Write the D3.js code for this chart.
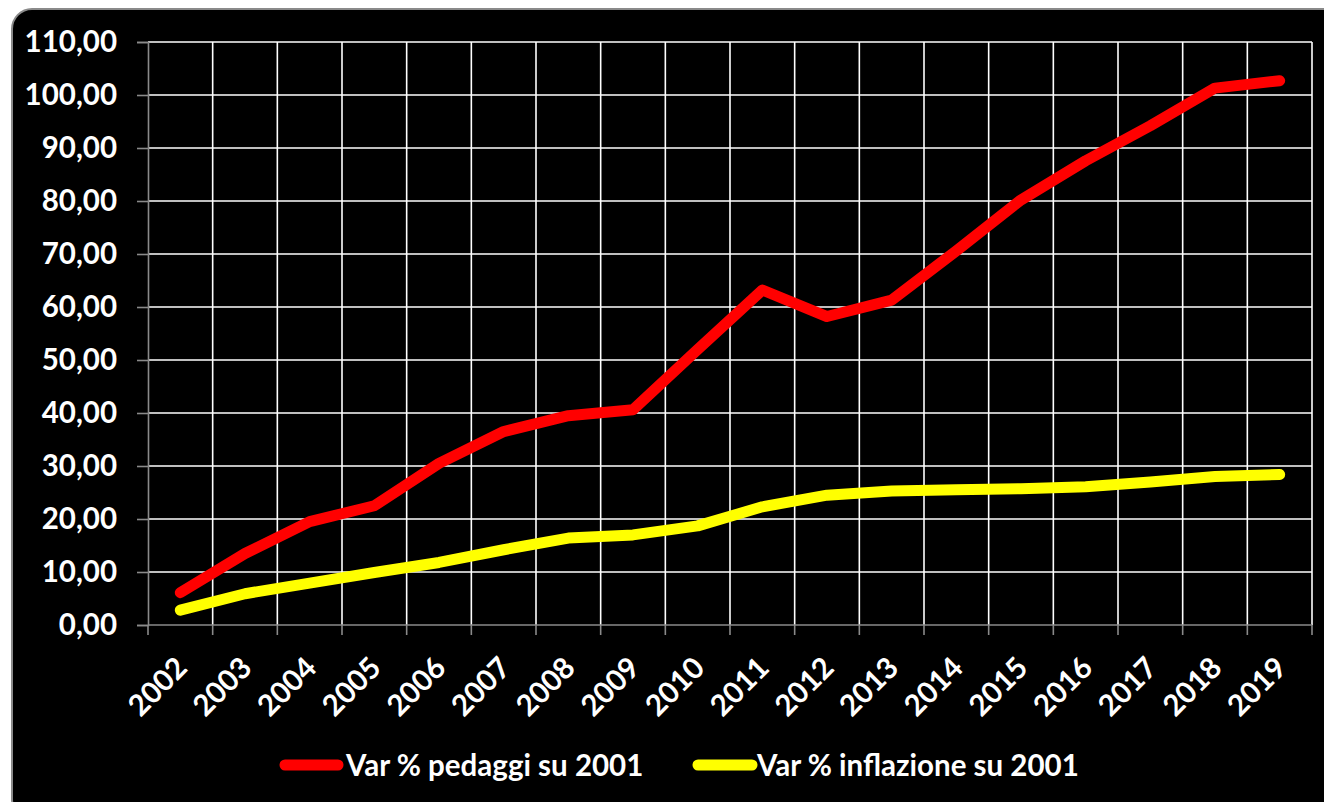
<!DOCTYPE html>
<html>
<head>
<meta charset="utf-8">
<script src="https://cdn.jsdelivr.net/npm/d3@7"></script>
<style>
  html, body { margin: 0; padding: 0; background: #ffffff; overflow: hidden; }
  svg { display: block; }
  text { font-family: Lato, "Open Sans", sans-serif; font-weight: bold; fill: #ffffff; }
</style>
</head>
<body>
<svg id="chart" width="1324" height="802"></svg>
<script>
const years = ["2002","2003","2004","2005","2006","2007","2008","2009","2010","2011","2012","2013","2014","2015","2016","2017","2018","2019"];
const pedaggi = [6.1, 13.5, 19.5, 22.5, 30.5, 36.5, 39.5, 40.6, 52.0, 63.2, 58.2, 61.3, 70.6, 80.2, 87.6, 94.2, 101.3, 102.7];
const inflazione = [2.8, 5.9, 7.9, 9.9, 11.8, 14.2, 16.4, 17.0, 18.7, 22.3, 24.5, 25.3, 25.5, 25.7, 26.1, 27.0, 28.0, 28.4];
const yTicks = [0, 10, 20, 30, 40, 50, 60, 70, 80, 90, 100, 110];
const seriesNames = ["Var % pedaggi su 2001", "Var % inflazione su 2001"];
const seriesColors = ["#ff0000", "#ffff00"];

const svg = d3.select("#chart");

// chart box
svg.append("rect")
  .attr("x", 12).attr("y", 9)
  .attr("width", 1340).attr("height", 810)
  .attr("rx", 20).attr("ry", 20)
  .attr("fill", "#000000")
  .attr("stroke", "#8a8a8a").attr("stroke-width", 2);

const pLeft = 148, pRight = 1312, pTop = 42, pBottom = 625;

const x = d3.scaleBand().domain(years).range([pLeft, pRight]).padding(0);
const y = d3.scaleLinear().domain([0, 110]).range([pBottom, pTop]);
const fmt = v => d3.format(".2f")(v).replace(".", ",");

// horizontal grid
svg.append("g").selectAll("line")
  .data(yTicks.filter(d => d > 0))
  .join("line")
  .attr("x1", pLeft).attr("x2", pRight)
  .attr("y1", d => y(d)).attr("y2", d => y(d))
  .attr("stroke", "#ffffff").attr("stroke-width", 1.6);

// vertical grid at band boundaries
const bounds = years.slice(1).map(d => x(d)).concat([pRight]);
svg.append("g").selectAll("line")
  .data(bounds)
  .join("line")
  .attr("x1", d => d).attr("x2", d => d)
  .attr("y1", pTop).attr("y2", pBottom)
  .attr("stroke", "#ffffff").attr("stroke-width", 1.6);

// y axis
const yAxis = d3.axisLeft(y).tickValues(yTicks).tickFormat(fmt).tickSize(11).tickPadding(20);
const gy = svg.append("g").attr("transform", `translate(${pLeft},0)`).call(yAxis);
gy.select(".domain").attr("stroke", "#8a8a8a").attr("stroke-width", 1.6);
gy.selectAll(".tick line").attr("stroke", "#8a8a8a").attr("stroke-width", 1.6);
gy.selectAll(".tick text")
  .attr("fill", "#ffffff")
  .style("font-family", "Lato, 'Open Sans', sans-serif")
  .style("font-weight", "bold")
  .style("font-size", "29.5px");

// x axis line + ticks at band boundaries
svg.append("line")
  .attr("x1", pLeft).attr("x2", pRight)
  .attr("y1", pBottom).attr("y2", pBottom)
  .attr("stroke", "#8a8a8a").attr("stroke-width", 1.6);
svg.append("g").selectAll("line")
  .data([pLeft].concat(bounds))
  .join("line")
  .attr("x1", d => d).attr("x2", d => d)
  .attr("y1", pBottom).attr("y2", pBottom + 10)
  .attr("stroke", "#8a8a8a").attr("stroke-width", 1.6);

// x labels rotated
svg.append("g").selectAll("text")
  .data(years)
  .join("text")
  .attr("transform", d => `translate(${x(d) + x.bandwidth() / 2 - 6},${pBottom + 30}) rotate(-45)`)
  .attr("text-anchor", "end")
  .attr("dy", "0.7em")
  .style("font-size", "29.5px")
  .text(d => d);

// lines
const line = d3.line()
  .x((d, i) => x(years[i]) + x.bandwidth() / 2)
  .y(d => y(d));

[pedaggi, inflazione].forEach((data, k) => {
  svg.append("path")
    .datum(data)
    .attr("d", line)
    .attr("fill", "none")
    .attr("stroke", seriesColors[k])
    .attr("stroke-width", 11)
    .attr("stroke-linejoin", "round")
    .attr("stroke-linecap", "round");
});

// legend
const legendItems = [
  { x1: 285, x2: 338, tx: 346 },
  { x1: 698, x2: 752, tx: 757 }
];
legendItems.forEach((it, k) => {
  svg.append("line")
    .attr("x1", it.x1).attr("x2", it.x2)
    .attr("y1", 765).attr("y2", 765)
    .attr("stroke", seriesColors[k]).attr("stroke-width", 11)
    .attr("stroke-linecap", "round");
  svg.append("text")
    .attr("x", it.tx).attr("y", 765)
    .attr("dy", "0.36em")
    .style("font-size", "29.5px")
    .text(seriesNames[k]);
});
</script>
</body>
</html>
